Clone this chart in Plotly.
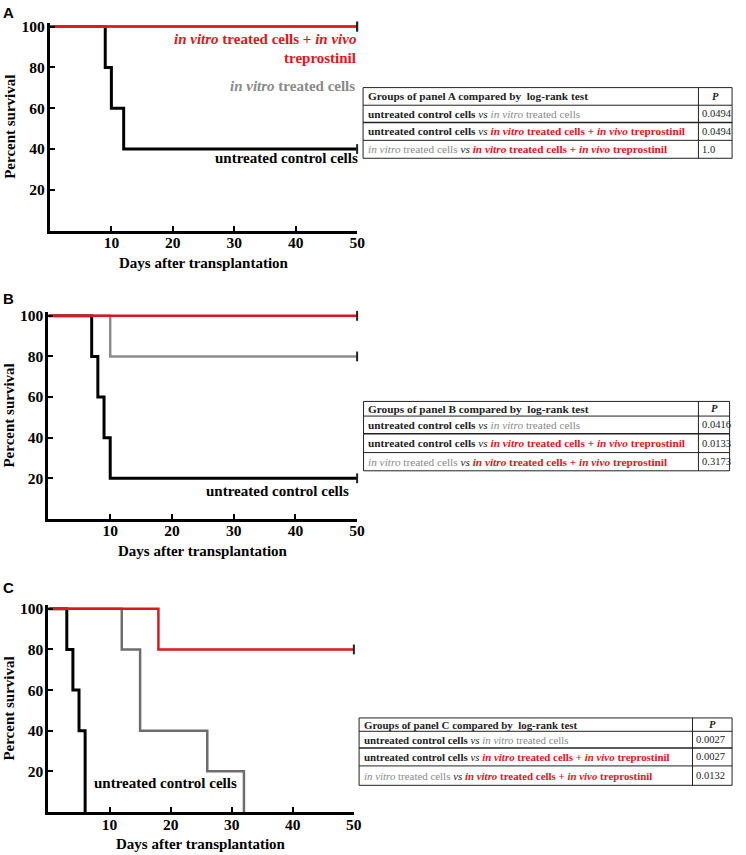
import plotly.graph_objects as go

W, H = 746, 855

# ---------------- data ----------------
a_untreated_days = [0, 9, 10, 12, 50]
a_untreated_surv = [100, 80, 60, 40, 40]
a_invitro_days = [0, 50]
a_invitro_surv = [100, 100]
a_trep_days = [0, 50]
a_trep_surv = [100, 100]

b_untreated_days = [0, 7, 8, 9, 10, 50]
b_untreated_surv = [100, 80, 60, 40, 20, 20]
b_invitro_days = [0, 10, 50]
b_invitro_surv = [100, 80, 80]
b_trep_days = [0, 50]
b_trep_surv = [100, 100]

c_untreated_days = [0, 3, 4, 5, 6]
c_untreated_surv = [100, 80, 60, 40, 0]
c_invitro_days = [0, 12, 15, 26, 32]
c_invitro_surv = [100, 80, 40, 20, 0]
c_trep_days = [0, 18, 50]
c_trep_surv = [100, 80, 80]

x_tickvals = [10, 20, 30, 40, 50]
y_tickvals = [20, 40, 60, 80, 100]

panel_letters = ["A", "B", "C"]
p_values_a = ["0.0494", "0.0494", "1.0"]
p_values_b = ["0.0416", "0.0133", "0.3173"]
p_values_c = ["0.0027", "0.0027", "0.0132"]

# ---------------- styles ----------------
BLACK = "#000000"
RED = "#e3141b"
GRAY_LINE_B = "#8c8c8c"
GRAY_LINE_C = "#6e6e6e"
GRAY_TEXT = "#8a8a8a"
SERIF = "Liberation Serif"
SANS = "Liberation Sans"


def fx(px):
    return px / W


def fy(py):
    return 1 - py / H


# panel geometry in pixels: x of day 0, x of day 50, y of 0 %, y of 100 %
geo = [
    dict(x0=50.5, x50=361.0, y0=227.7, y100=22.7),
    dict(x0=49.0, x50=361.0, y0=517.3, y100=313.3),
    dict(x0=49.0, x50=357.7, y0=811.7, y100=607.7),
]

series = [
    [(a_untreated_days, a_untreated_surv, BLACK, 3),
     (a_invitro_days, a_invitro_surv, GRAY_LINE_B, 2.5),
     (a_trep_days, a_trep_surv, RED, 2.5)],
    [(b_untreated_days, b_untreated_surv, BLACK, 3),
     (b_invitro_days, b_invitro_surv, GRAY_LINE_B, 2.5),
     (b_trep_days, b_trep_surv, RED, 2.5)],
    [(c_untreated_days, c_untreated_surv, BLACK, 3),
     (c_invitro_days, c_invitro_surv, GRAY_LINE_C, 2.5),
     (c_trep_days, c_trep_surv, RED, 2.5)],
]

YMAX = 102

fig = go.Figure()
layout = dict(
    width=W, height=H, margin=dict(l=0, r=0, t=0, b=0),
    paper_bgcolor="white", plot_bgcolor="white", showlegend=False,
)
annotations = []
shapes = []

for i, g in enumerate(geo):
    sfx = "" if i == 0 else str(i + 1)
    xa, ya = "x" + sfx, "y" + sfx
    ytop = g["y100"] - (YMAX - 100) * (g["y0"] - g["y100"]) / 100
    layout["xaxis" + sfx] = dict(
        domain=[fx(g["x0"]), fx(g["x50"])], range=[0, 50], anchor=ya,
        tickvals=x_tickvals, ticks="inside", ticklen=5, tickwidth=2, tickcolor=BLACK,
        showline=True, linewidth=3, linecolor=BLACK, showgrid=False, zeroline=False,
        ticklabelstandoff=-4,
        tickfont=dict(family=SERIF, size=15.5, color=BLACK, weight="bold"),
    )
    layout["yaxis" + sfx] = dict(
        domain=[fy(g["y0"]), fy(ytop)], range=[0, YMAX], anchor=xa,
        tickvals=y_tickvals, ticks="inside", ticklen=5, tickwidth=2, tickcolor=BLACK,
        showline=True, linewidth=3, linecolor=BLACK, showgrid=False, zeroline=False,
        ticklabelstandoff=-1,
        tickfont=dict(family=SERIF, size=15.5, color=BLACK, weight="bold"),
    )
    for days, surv, col, w in series[i]:
        fig.add_trace(go.Scatter(
            x=days, y=surv, mode="lines", line=dict(color=col, width=w, shape="hv"),
            xaxis=xa, yaxis=ya, hoverinfo="skip"))
    for days, surv, col, w in series[i]:
        if days[-1] == 50:
            fig.add_trace(go.Scatter(
                x=[days[-1]], y=[surv[-1]], mode="markers", cliponaxis=False,
                marker=dict(symbol="line-ns", size=7, line=dict(width=2, color="#222222")),
                xaxis=xa, yaxis=ya, hoverinfo="skip"))
    # axis titles
    annotations.append(dict(
        text="<b>Days after transplantation</b>", xref="paper", yref="paper",
        x=fx((g["x0"] + g["x50"]) / 2), y=fy(g["y0"] + 32.5), xanchor="center", yanchor="middle",
        showarrow=False, font=dict(family=SERIF, size=15, color=BLACK)))
    annotations.append(dict(
        text="<b>Percent survival</b>", xref="paper", yref="paper", textangle=-90,
        x=fx(9.3), y=fy((g["y0"] + g["y100"]) / 2 - 2), xanchor="center", yanchor="middle",
        showarrow=False, font=dict(family=SERIF, size=15, color=BLACK)))

# panel letters
for letter, py in zip(panel_letters, [8.5, 296, 586]):
    annotations.append(dict(
        text="<b>%s</b>" % letter, xref="paper", yref="paper", x=fx(1.5), y=fy(py),
        xanchor="left", yanchor="middle", showarrow=False,
        font=dict(family=SANS, size=15, color=BLACK)))

# in-plot labels
def label(text, px, py, color, anchor="right"):
    annotations.append(dict(
        text=text, xref="paper", yref="paper", x=fx(px), y=fy(py), xanchor=anchor,
        yanchor="middle", showarrow=False, font=dict(family=SERIF, size=15, color=color)))

label("<b><i>in vitro</i> treated cells + <i>in vivo</i></b>", 362, 35, RED)
label("<b>treprostinil</b>", 362, 54, RED)
label("<b><i>in vitro</i> treated cells</b>", 361, 82.7, GRAY_TEXT)
label("<b>untreated control cells</b>", 364, 155, BLACK)
label("<b>untreated control cells</b>", 355, 489.3, BLACK)
label("<b>untreated control cells</b>", 167, 782.3, BLACK, anchor="center")

# ---------------- tables ----------------
row1 = ("<b>untreated control cells</b> <i>vs</i> <span style='color:%s'><i>in vitro</i> treated cells</span>"
        % GRAY_TEXT)
row2 = ("<b>untreated control cells</b> <i>vs</i> <span style='color:%s'><b><i>in vitro</i> treated cells + "
        "<i>in vivo</i> treprostinil</b></span>" % RED)
row3 = ("<span style='color:%s'><i>in vitro</i> treated cells</span> <i>vs</i> <span style='color:%s'><b><i>in vitro</i> "
        "treated cells + <i>in vivo</i> treprostinil</b></span>" % (GRAY_TEXT, RED))

tables = [
    dict(letter="A", pv=p_values_a, left=367, div=706, right=740, ys=[84, 101.7, 119, 137, 155], size=11.3),
    dict(letter="B", pv=p_values_b, left=367.5, div=706, right=737.5, ys=[399.3, 414, 431.7, 450.7, 469], size=11.3),
    dict(letter="C", pv=p_values_c, left=363, div=700, right=740, ys=[717.3, 730.7, 747.5, 765.5, 785], size=10.9),
]

for t in tables:
    ys = t["ys"]
    shapes.append(dict(type="rect", xref="paper", yref="paper", x0=fx(t["left"]), x1=fx(t["right"]),
                       y0=fy(ys[-1]), y1=fy(ys[0]), line=dict(color="#222222", width=1)))
    for k, yy in enumerate(ys[1:-1]):
        shapes.append(dict(type="line", xref="paper", yref="paper", x0=fx(t["left"]), x1=fx(t["right"]),
                           y0=fy(yy), y1=fy(yy), line=dict(color="#222222", width=1.6 if k == 1 else 1)))
    shapes.append(dict(type="line", xref="paper", yref="paper", x0=fx(t["div"]), x1=fx(t["div"]),
                       y0=fy(ys[-1]), y1=fy(ys[0]), line=dict(color="#222222", width=1)))
    texts = ["<b>Groups of panel %s compared by  log-rank test</b>" % t["letter"], row1, row2, row3]
    pcol = ["<b><i>P</i></b>"] + t["pv"]
    for k in range(4):
        yc = (ys[k] + ys[k + 1]) / 2
        annotations.append(dict(
            text=texts[k], xref="paper", yref="paper", x=fx(t["left"] + 2.5), y=fy(yc),
            xanchor="left", yanchor="middle", showarrow=False,
            font=dict(family=SERIF, size=t["size"], color="#222222")))
        annotations.append(dict(
            text=pcol[k], xref="paper", yref="paper",
            x=fx((t["div"] + t["right"]) / 2) if k == 0 else fx(t["div"] + 2), y=fy(yc),
            xanchor="center" if k == 0 else "left", yanchor="middle", showarrow=False,
            font=dict(family=SERIF, size=10.5, color="#222222")))

layout["annotations"] = annotations
layout["shapes"] = shapes
fig.update_layout(**layout)
fig.write_html("out.html", config={"displayModeBar": False},
               post_script="document.body.style.margin='0';document.body.style.padding='0';")
